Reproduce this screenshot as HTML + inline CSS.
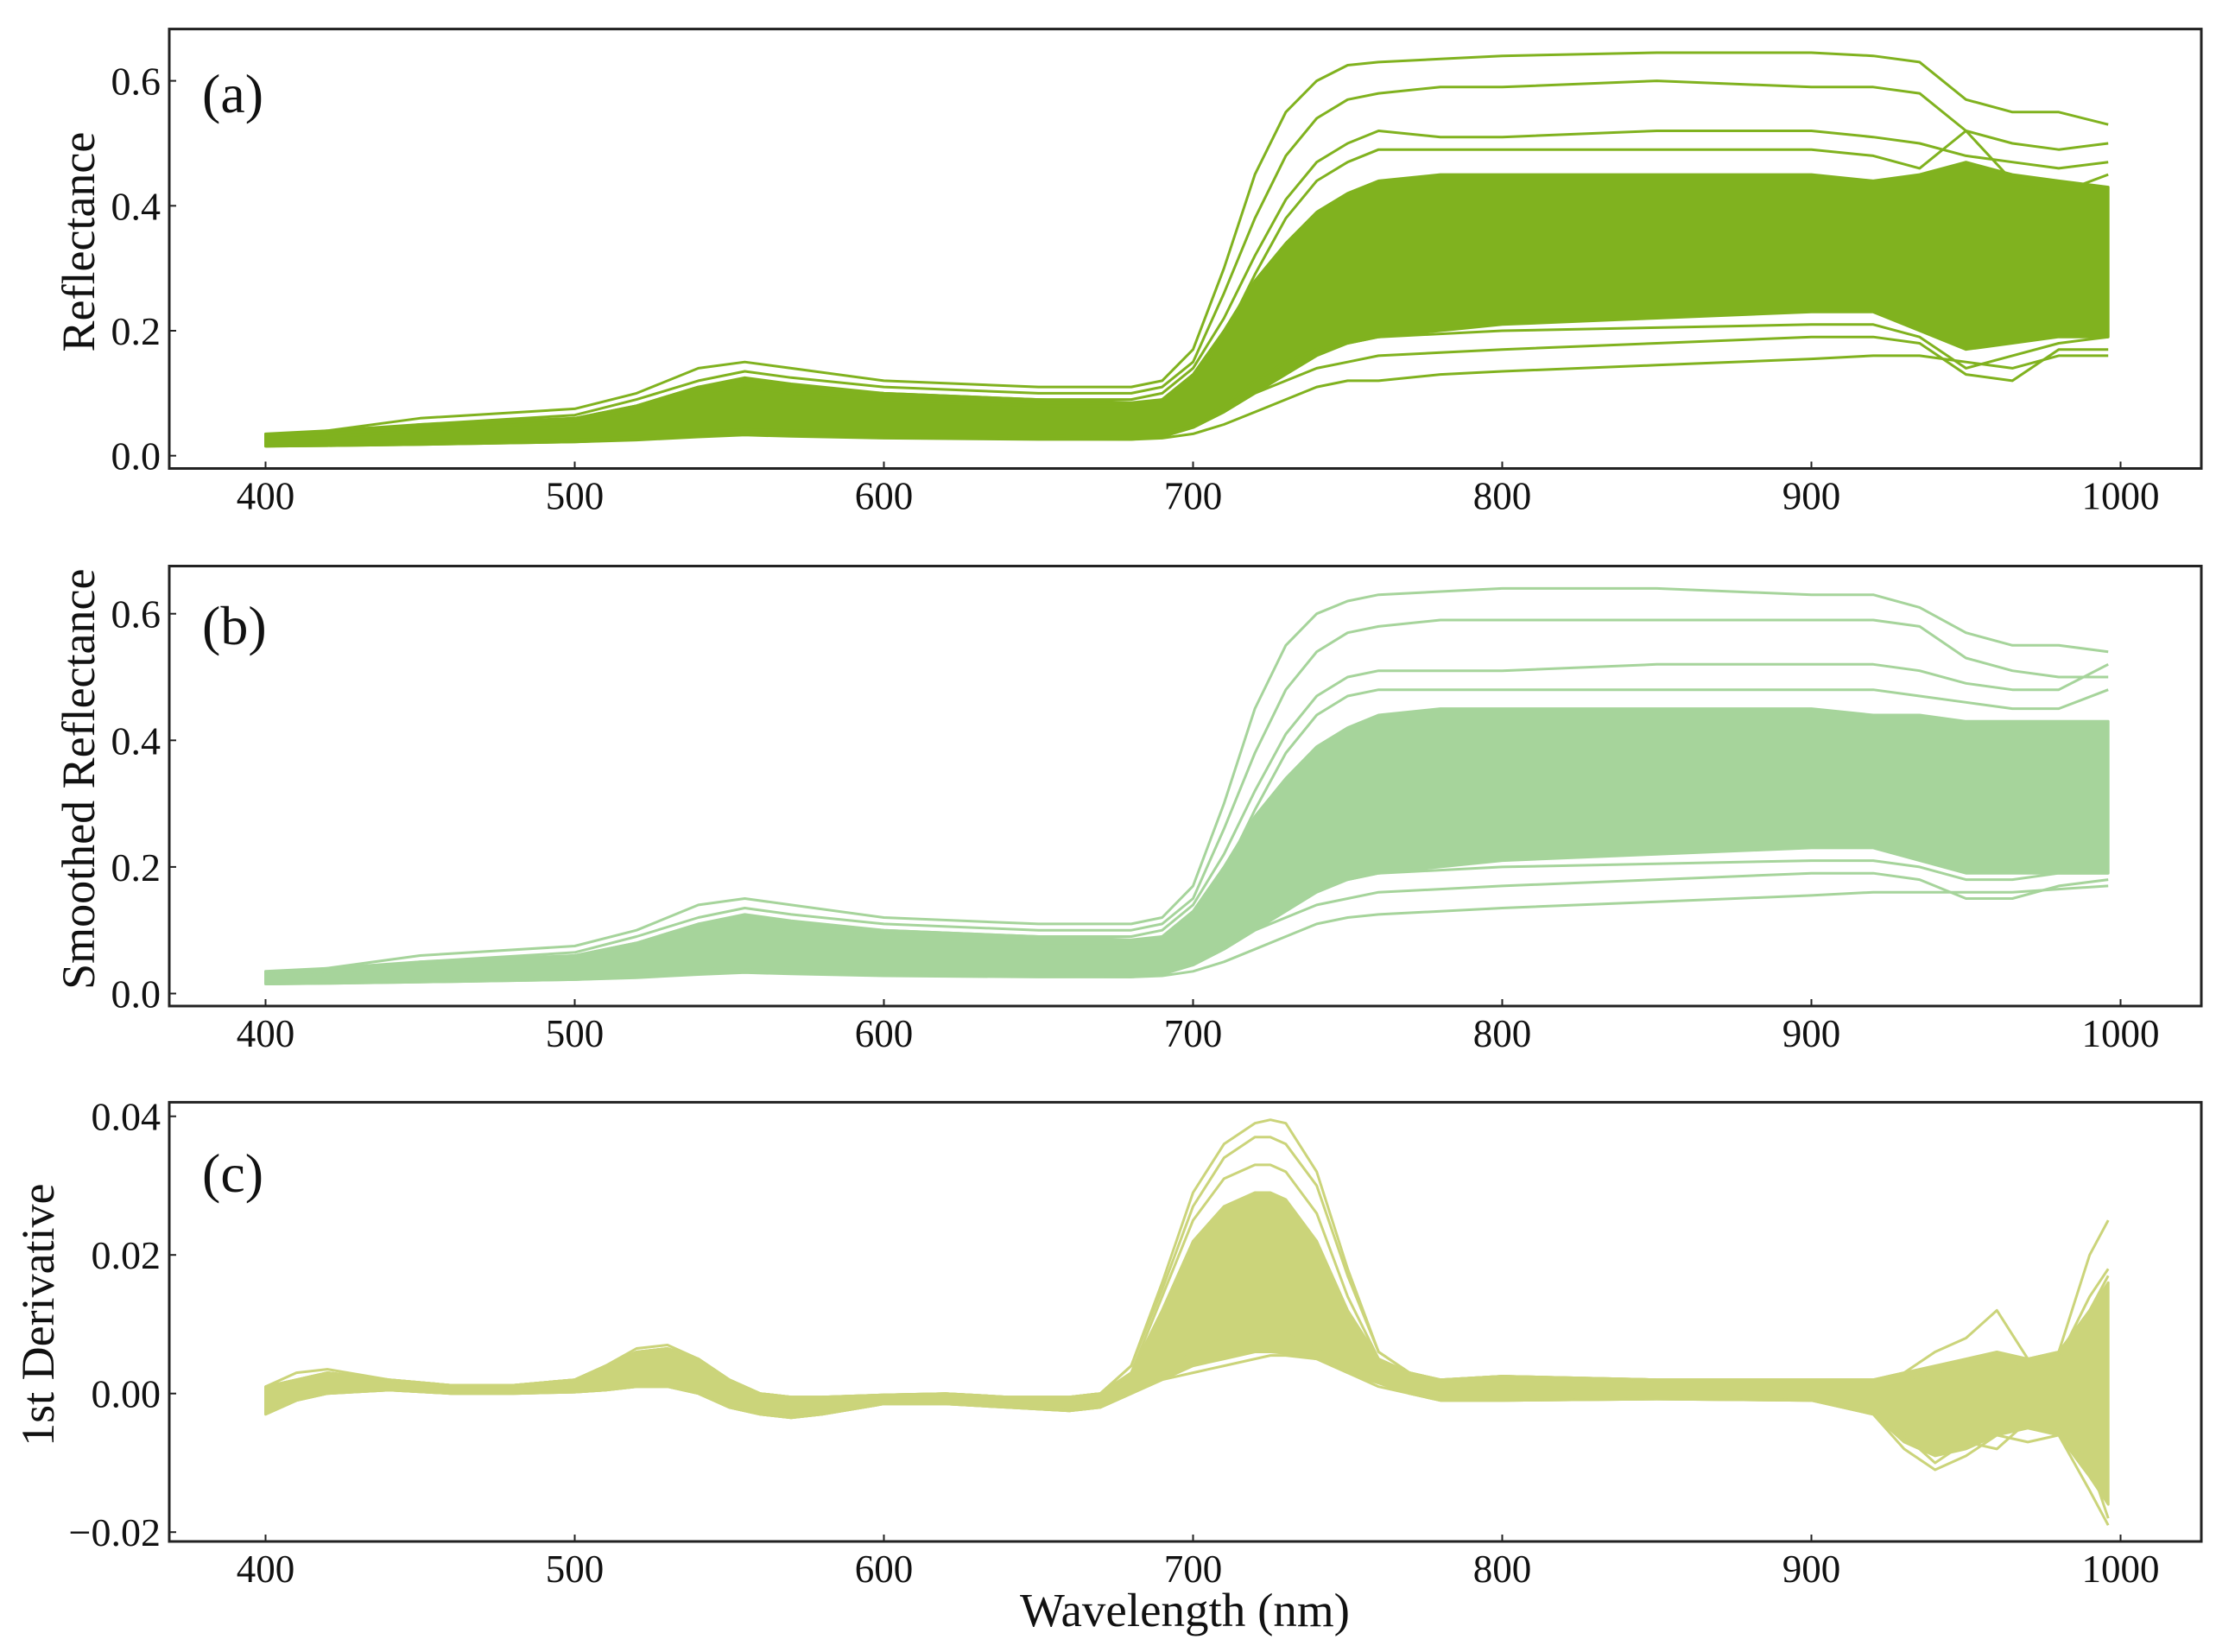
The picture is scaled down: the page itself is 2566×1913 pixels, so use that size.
<!DOCTYPE html>
<html><head><meta charset="utf-8"><style>
html,body{margin:0;padding:0;background:#fff;}
svg{display:block;}
text{font-family:"Liberation Serif",serif;fill:#111;}
</style></head><body>
<svg id="chart" width="2566" height="1913" viewBox="0 0 2566 1913" xmlns="http://www.w3.org/2000/svg"></svg>
<script>
// ---------- data ----------
const xTicks = [400,500,600,700,800,900,1000];
const yTicksA = [0.0,0.2,0.4,0.6];
const yTicksB = [0.0,0.2,0.4,0.6];
const yTicksC = [-0.02,0.00,0.02,0.04];
const yTickLabelsC = ["\u22120.02","0.00","0.02","0.04"];

const waveA = [400,420,450,500,520,540,555,570,600,650,680,690,700,710,720,730,740,750,760,780,800,850,900,920,935,950,965,980,996];
const coreLowA = [0.015,0.016,0.018,0.022,0.026,0.033,0.036,0.034,0.030,0.027,0.026,0.03,0.045,0.07,0.10,0.13,0.16,0.18,0.19,0.20,0.21,0.22,0.23,0.23,0.20,0.17,0.18,0.19,0.19];
const coreHighA = [0.035,0.04,0.05,0.06,0.08,0.11,0.125,0.115,0.10,0.09,0.085,0.09,0.13,0.20,0.28,0.34,0.39,0.42,0.44,0.45,0.45,0.45,0.45,0.44,0.45,0.47,0.45,0.44,0.43];
const linesA = [
 [0.03,0.04,0.06,0.075,0.10,0.14,0.15,0.14,0.12,0.11,0.11,0.12,0.17,0.30,0.45,0.55,0.60,0.625,0.63,0.635,0.64,0.645,0.645,0.64,0.63,0.57,0.55,0.55,0.53],
 [0.03,0.035,0.05,0.065,0.09,0.12,0.135,0.125,0.11,0.10,0.10,0.11,0.15,0.26,0.38,0.48,0.54,0.57,0.58,0.59,0.59,0.60,0.59,0.59,0.58,0.52,0.50,0.49,0.50],
 [0.03,0.035,0.045,0.06,0.08,0.11,0.12,0.11,0.10,0.09,0.09,0.10,0.14,0.22,0.32,0.41,0.47,0.50,0.52,0.51,0.51,0.52,0.52,0.51,0.50,0.48,0.47,0.46,0.47],
 [0.025,0.03,0.04,0.055,0.07,0.10,0.11,0.10,0.09,0.08,0.08,0.09,0.12,0.19,0.29,0.38,0.44,0.47,0.49,0.49,0.49,0.49,0.49,0.48,0.46,0.52,0.44,0.42,0.45],
 [0.015,0.016,0.018,0.022,0.025,0.03,0.033,0.031,0.028,0.026,0.026,0.028,0.035,0.05,0.07,0.09,0.11,0.12,0.12,0.13,0.135,0.145,0.155,0.16,0.16,0.15,0.14,0.16,0.16],
 [0.015,0.017,0.02,0.024,0.03,0.036,0.04,0.038,0.034,0.03,0.03,0.033,0.045,0.07,0.10,0.12,0.14,0.15,0.16,0.165,0.17,0.18,0.19,0.19,0.18,0.13,0.12,0.17,0.17],
 [0.016,0.018,0.02,0.025,0.03,0.037,0.042,0.04,0.035,0.031,0.03,0.034,0.05,0.08,0.12,0.15,0.17,0.18,0.19,0.195,0.20,0.205,0.21,0.21,0.19,0.14,0.16,0.18,0.19]
];

const waveB = [400,420,450,500,520,540,555,570,600,650,680,690,700,710,720,730,740,750,760,780,800,850,900,920,935,950,965,980,996];
const coreLowB = [0.015,0.016,0.018,0.022,0.026,0.033,0.036,0.034,0.030,0.027,0.026,0.03,0.045,0.07,0.10,0.13,0.16,0.18,0.19,0.20,0.21,0.22,0.23,0.23,0.21,0.19,0.19,0.19,0.19];
const coreHighB = [0.035,0.04,0.05,0.06,0.08,0.11,0.125,0.115,0.10,0.09,0.085,0.09,0.13,0.20,0.28,0.34,0.39,0.42,0.44,0.45,0.45,0.45,0.45,0.44,0.44,0.43,0.43,0.43,0.43];
const linesB = [
 [0.03,0.04,0.06,0.075,0.10,0.14,0.15,0.14,0.12,0.11,0.11,0.12,0.17,0.30,0.45,0.55,0.60,0.62,0.63,0.635,0.64,0.64,0.63,0.63,0.61,0.57,0.55,0.55,0.54],
 [0.03,0.035,0.05,0.065,0.09,0.12,0.135,0.125,0.11,0.10,0.10,0.11,0.15,0.26,0.38,0.48,0.54,0.57,0.58,0.59,0.59,0.59,0.59,0.59,0.58,0.53,0.51,0.50,0.50],
 [0.03,0.035,0.045,0.06,0.08,0.11,0.12,0.11,0.10,0.09,0.09,0.10,0.14,0.22,0.32,0.41,0.47,0.50,0.51,0.51,0.51,0.52,0.52,0.52,0.51,0.49,0.48,0.48,0.52],
 [0.025,0.03,0.04,0.055,0.07,0.10,0.11,0.10,0.09,0.08,0.08,0.09,0.12,0.19,0.29,0.38,0.44,0.47,0.48,0.48,0.48,0.48,0.48,0.48,0.47,0.46,0.45,0.45,0.48],
 [0.015,0.016,0.018,0.022,0.025,0.03,0.033,0.031,0.028,0.026,0.026,0.028,0.035,0.05,0.07,0.09,0.11,0.12,0.125,0.13,0.135,0.145,0.155,0.16,0.16,0.16,0.16,0.165,0.17],
 [0.015,0.017,0.02,0.024,0.03,0.036,0.04,0.038,0.034,0.03,0.03,0.033,0.045,0.07,0.10,0.12,0.14,0.15,0.16,0.165,0.17,0.18,0.19,0.19,0.18,0.15,0.15,0.17,0.18],
 [0.016,0.018,0.02,0.025,0.03,0.037,0.042,0.04,0.035,0.031,0.03,0.034,0.05,0.08,0.12,0.15,0.17,0.18,0.19,0.195,0.20,0.205,0.21,0.21,0.20,0.18,0.18,0.19,0.19]
];

const waveC = [400,410,420,440,460,480,500,510,520,530,540,550,560,570,580,600,620,640,660,670,680,690,700,710,720,725,730,740,750,760,770,780,800,850,900,920,930,940,950,960,970,980,990,996];
const coreLowC = [-0.003,-0.001,0.0,0.0005,0.0,0.0,0.0002,0.0005,0.001,0.001,0.0,-0.002,-0.003,-0.0035,-0.003,-0.0015,-0.0015,-0.002,-0.0025,-0.002,0.0,0.002,0.004,0.005,0.006,0.006,0.0058,0.005,0.003,0.0015,0.0,-0.001,-0.001,-0.0008,-0.001,-0.003,-0.007,-0.009,-0.008,-0.006,-0.005,-0.006,-0.012,-0.016];
const coreHighC = [0.001,0.002,0.003,0.002,0.0012,0.0012,0.002,0.004,0.006,0.0065,0.005,0.002,0.0,-0.0005,-0.0005,-0.0002,0.0,-0.0005,-0.0005,0.0,0.003,0.012,0.022,0.027,0.029,0.029,0.028,0.022,0.012,0.005,0.003,0.002,0.0025,0.002,0.002,0.002,0.003,0.004,0.005,0.006,0.005,0.006,0.012,0.016];
const linesC = [
 [0.001,0.003,0.0035,0.002,0.0012,0.0012,0.002,0.004,0.0065,0.007,0.005,0.002,0.0,-0.0005,-0.0005,-0.0002,0.0,-0.0005,-0.0005,0.0,0.004,0.016,0.029,0.036,0.039,0.0395,0.039,0.032,0.018,0.006,0.003,0.002,0.0025,0.002,0.002,0.002,0.003,0.006,0.008,0.012,0.005,0.006,0.02,0.025],
 [0.001,0.002,0.003,0.002,0.0012,0.0012,0.002,0.004,0.006,0.0065,0.005,0.002,0.0,-0.0005,-0.0005,-0.0002,0.0,-0.0005,-0.0005,0.0,0.004,0.015,0.027,0.034,0.037,0.037,0.036,0.030,0.017,0.006,0.003,0.002,0.0025,0.002,0.002,0.002,0.002,0.003,0.004,0.005,0.004,0.005,0.014,0.018],
 [0.001,0.002,0.003,0.002,0.0012,0.0012,0.002,0.004,0.006,0.0065,0.005,0.002,0.0,-0.0005,-0.0005,-0.0002,0.0,-0.0005,-0.0005,0.0,0.003,0.014,0.025,0.031,0.033,0.033,0.032,0.026,0.014,0.005,0.003,0.002,0.0025,0.002,0.002,0.002,0.002,0.003,0.004,0.005,0.004,0.005,0.012,0.017],
 [-0.003,-0.001,0.0,0.0005,0.0,0.0,0.0002,0.0005,0.001,0.001,0.0,-0.002,-0.003,-0.0035,-0.003,-0.0015,-0.0015,-0.002,-0.0025,-0.002,0.0,0.002,0.003,0.004,0.005,0.0055,0.0055,0.005,0.003,0.001,0.0,-0.001,-0.001,-0.0008,-0.001,-0.003,-0.008,-0.011,-0.009,-0.006,-0.007,-0.006,-0.014,-0.019],
 [-0.002,-0.001,0.0,0.0005,0.0,0.0,0.0002,0.0005,0.001,0.001,0.0,-0.002,-0.003,-0.0035,-0.003,-0.0015,-0.0015,-0.002,-0.0025,-0.002,0.0,0.003,0.006,0.008,0.009,0.0095,0.009,0.007,0.004,0.002,0.0,-0.001,-0.001,-0.0008,-0.001,-0.002,-0.006,-0.01,-0.007,-0.008,-0.004,-0.005,-0.01,-0.018]
];

// ---------- layout ----------
const X0 = 196, X1 = 2549;
function xs(w){ return 307.5 + (w-400)*3.58; }
const panels = [
 {id:'a', top:33.6, bottom:542.5, y:v=>527.7 - v*723.5, wave:waveA, lo:coreLowA, hi:coreHighA, lines:linesA, ticks:yTicksA, tickLabels:yTicksA.map(v=>v.toFixed(1)), color:'#80b21f', label:'(a)', title:'Reflectance', titleX:91, labelY:130},
 {id:'b', top:655.5, bottom:1165, y:v=>1150.5 - v*733, wave:waveB, lo:coreLowB, hi:coreHighB, lines:linesB, ticks:yTicksB, tickLabels:yTicksB.map(v=>v.toFixed(1)), color:'#a6d49b', label:'(b)', title:'Smoothed Reflectance', titleX:91, labelY:746},
 {id:'c', top:1276.4, bottom:1785, y:v=>1613.7 - v*8025, wave:waveC, lo:coreLowC, hi:coreHighC, lines:linesC, ticks:yTicksC, tickLabels:yTickLabelsC, color:'#cbd47a', label:'(c)', title:'1st Derivative', titleX:44, labelY:1380}
];

const NS = 'http://www.w3.org/2000/svg';
const svg = document.getElementById('chart');
function mk(tag, attrs, parent){
  const e = document.createElementNS(NS, tag);
  for (const k in attrs) e.setAttribute(k, attrs[k]);
  (parent||svg).appendChild(e);
  return e;
}

panels.forEach(p => {
  const g = mk('g', {});
  
  

  let d = '';
  p.wave.forEach((w,i)=>{ d += (i? 'L':'M') + xs(w).toFixed(1) + ' ' + p.y(p.hi[i]).toFixed(1) + ' '; });
  for (let i=p.wave.length-1;i>=0;i--) d += 'L' + xs(p.wave[i]).toFixed(1) + ' ' + p.y(p.lo[i]).toFixed(1) + ' ';
  d += 'Z';
  const band = mk('path', {d:d, fill:p.color, stroke:p.color, 'stroke-width':3, 'stroke-linejoin':'round'}, g);
  
  

  p.lines.forEach((arr, li) => {
    const pts = p.wave.map((w,i)=> xs(w).toFixed(1) + ',' + p.y(arr[i]).toFixed(1)).join(' ');
    const pl = mk('polyline', {points:pts, fill:'none', stroke:p.color, 'stroke-width':3, 'stroke-linejoin':'round'}, g);
    
    
  });

  const fr = mk('rect', {x:X0, y:p.top, width:X1-X0, height:p.bottom-p.top, fill:'none', stroke:'#222', 'stroke-width':3}, g);
  
  

  p.ticks.forEach((v,i) => {
    const yy = p.y(v);
    const t = mk('line', {x1:X0, x2:X0+8, y1:yy, y2:yy, stroke:'#222', 'stroke-width':2}, g);
    
    
    const tl = mk('text', {x:186, y:yy+16, 'font-size':46, 'text-anchor':'end'}, g);
    tl.textContent = p.tickLabels[i];
    
    
  });

  xTicks.forEach(w => {
    const xx = xs(w);
    const t = mk('line', {x1:xx, x2:xx, y1:p.bottom, y2:p.bottom-8, stroke:'#222', 'stroke-width':2}, g);
    
    
    const tl = mk('text', {x:xx, y:p.bottom+47, 'font-size':45, 'text-anchor':'middle'}, g);
    tl.textContent = String(w);
    
    
  });

  const pl = mk('text', {x:234, y:p.labelY, 'font-size':64}, g);
  pl.textContent = p.label;
  
  

  const cy = (p.top + p.bottom)/2 - 8;
  const yt = mk('text', {x:0, y:0, 'font-size':54, 'text-anchor':'middle', transform:'translate(' + (p.titleX+18) + ',' + cy + ') rotate(-90)'}, g);
  yt.textContent = p.title;
  
  
});

const xt = mk('text', {x:1372, y:1883, 'font-size':55, 'text-anchor':'middle'});
xt.textContent = 'Wavelength (nm)';


</script>
</body></html>
